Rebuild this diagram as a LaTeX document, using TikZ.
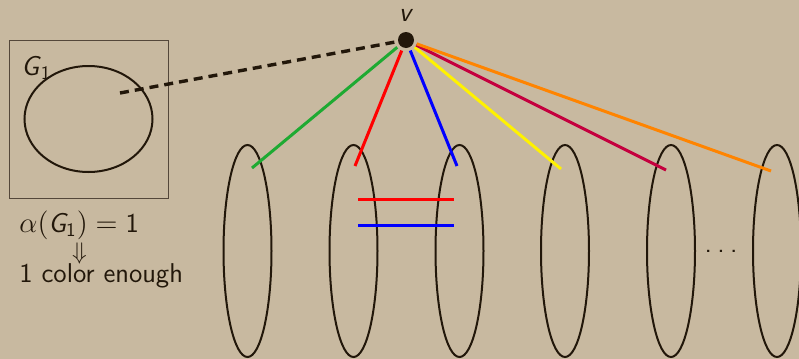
\documentclass[tikz,border=0pt]{standalone}
\usepackage{amsmath}
\usepackage{tikz}
\usetikzlibrary{positioning,shapes.geometric}
\definecolor{Paper}{HTML}{C8B9A0}
\definecolor{Ink}{HTML}{22170A}
\definecolor{Frame}{HTML}{54473A}
\definecolor{Green}{HTML}{1EAA32}
\definecolor{Red}{HTML}{FF0000}
\definecolor{Blue}{HTML}{0000FF}
\definecolor{Yellow}{HTML}{FFF200}
\definecolor{Wine}{HTML}{C4003E}
\definecolor{Orange}{HTML}{FF8400}
\begin{document}
\begin{tikzpicture}[
  x=0.5pt,y=-0.5pt,
  every node/.style={font=\fontsize{13.6}{16}\selectfont\sffamily,text=Ink},
  part/.style={draw=Ink,line width=1pt,ellipse,inner sep=0pt,minimum width=24pt,minimum height=106pt},
  vtx/.style={circle,fill=Ink,inner sep=0pt,minimum size=8pt},
  spoke/.style={line width=1.5pt,shorten <=1.5pt},
  bar/.style={line width=1.5pt},
  link/.style={line width=1.7pt,color=Ink,dash pattern=on 4.5pt off 3pt}
]
\fill[Paper] (0,0) rectangle (799,359);
\useasboundingbox (0,0) rectangle (799,359);

% the first graph, on its own
\node[draw=Frame,line width=0.5pt,minimum width=79.5pt,minimum height=79pt] (frame) at (88.5,119) {};
\node[draw=Ink,line width=1pt,ellipse,minimum width=64pt,minimum height=53pt] (g1) at (88.5,119) {};
\node[anchor=base west,inner sep=0pt] (g1lbl) at (21,75) {\textit{G}$_{\textsf{1}}$};
\node[anchor=base west,inner sep=0pt] (alpha) at (19,232) {$\alpha(\textit{G}_{\textsf{1}})=\textsf{1}$};
\node[inner sep=0pt,font=\fontsize{12.5}{14}\selectfont] (impl) at (79.5,253.5) {$\Downarrow$};
\node[anchor=base west,inner sep=0pt] (enough) at (19,282) {1 color enough};

% the new vertex
\node[vtx] (v) at (406,40) {};
\node[above=5pt of v,inner sep=0pt] (vlbl) {\textit{v}};

% the parts
\node[part] (p1) at (247.5,251) {};
\node[part] (p2) at (353.5,251) {};
\node[part] (p3) at (459.5,251) {};
\node[part] (p4) at (565,251) {};
\node[part] (p5) at (671,251) {};
\node[part] (p6) at (777,251) {};
\node[inner sep=0pt] (dots) at (721,251) {.\kern2.7pt.\kern2.7pt.};

\coordinate (dashEnd) at (120,93);
\coordinate (gEnd) at (252,168);
\coordinate (rEnd) at (355,166);
\coordinate (bEnd) at (457,166);
\coordinate (yEnd) at (561,169);
\coordinate (wEnd) at (666,170);
\coordinate (oEnd) at (771,171);
\coordinate (redL) at (358,199);
\coordinate (redR) at (454,199);
\coordinate (blueL) at (358,225.5);
\coordinate (blueR) at (454,225.5);

\draw[link] (dashEnd) -- (v);
\draw[spoke,Green] (v) -- (gEnd);
\draw[spoke,Red] (v) -- (rEnd);
\draw[spoke,Blue] (v) -- (bEnd);
\draw[spoke,Yellow] (v) -- (yEnd);
\draw[spoke,Wine] (v) -- (wEnd);
\draw[spoke,Orange] (v) -- (oEnd);
\draw[bar,Red] (redL) -- (redR);
\draw[bar,Blue] (blueL) -- (blueR);
\end{tikzpicture}
\end{document}
